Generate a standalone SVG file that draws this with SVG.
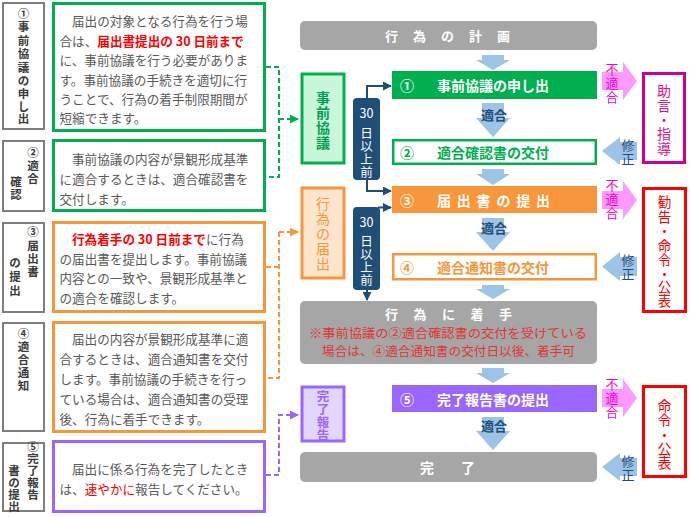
<svg xmlns="http://www.w3.org/2000/svg" width="690" height="517" viewBox="0 0 690 517">
<style>
text{font-family:"Noto Sans CJK JP","Noto Sans",sans-serif;dominant-baseline:central}
.lbl{fill:#fff;stroke:#7f7f7f;stroke-width:2}
.lt{font-size:11.5px;font-weight:bold;fill:#3a3a3a;text-anchor:middle}
.body{font-size:12.6px;fill:#595959}
.red{fill:#ff0000;font-weight:bold}
.gbox{fill:#fff;stroke:#00b050;stroke-width:3}
.obox{fill:#fff;stroke:#f7963a;stroke-width:3}
.pbox{fill:#fff;stroke:#9966ff;stroke-width:3}
.gray{fill:#a6a6a6}
.blue{fill:#9dc3e6}
.pink{fill:#ff99ff}
.navy{fill:#1f4e79}
.ft{font-size:14px;font-weight:bold}
.vt{text-anchor:middle}
.dash{fill:none;stroke-width:2;stroke-dasharray:5 3}
.conn{fill:none;stroke:#1f4e79;stroke-width:2}
.note{font-size:12.5px;fill:#e03535}
</style>
<defs>
<marker id="mg" markerUnits="userSpaceOnUse" markerWidth="9" markerHeight="9" refX="8" refY="4.5" orient="auto"><path d="M0,0 L9,4.5 L0,9 z" fill="#00b050"/></marker>
<marker id="mo" markerUnits="userSpaceOnUse" markerWidth="9" markerHeight="9" refX="8" refY="4.5" orient="auto"><path d="M0,0 L9,4.5 L0,9 z" fill="#f7963a"/></marker>
<marker id="mp" markerUnits="userSpaceOnUse" markerWidth="9" markerHeight="9" refX="8" refY="4.5" orient="auto"><path d="M0,0 L9,4.5 L0,9 z" fill="#9966ff"/></marker>
<marker id="mn" markerUnits="userSpaceOnUse" markerWidth="9" markerHeight="9" refX="8" refY="4.5" orient="auto"><path d="M0,0 L9,4.5 L0,9 z" fill="#1f4e79"/></marker>
</defs>
<rect width="690" height="517" fill="#fff"/>

<!-- left labels -->
<g id="label1">
<rect class="lbl" x="3" y="3" width="41" height="126"/>
<text class="lt"><tspan x="23.5" y="13">①</tspan><tspan x="23.5" y="26">事</tspan><tspan x="23.5" y="39.5">前</tspan><tspan x="23.5" y="53">協</tspan><tspan x="23.5" y="66.5">議</tspan><tspan x="23.5" y="80">の</tspan><tspan x="23.5" y="93">申</tspan><tspan x="23.5" y="105.5">し</tspan><tspan x="23.5" y="118">出</tspan></text>
</g>
<g id="label2">
<rect class="lbl" x="3" y="141" width="41" height="70"/>
<text class="lt"><tspan x="33" y="152">②</tspan><tspan x="33" y="165">適</tspan><tspan x="33" y="178">合</tspan><tspan x="16" y="181">確</tspan><tspan x="16" y="194">認</tspan></text>
</g>
<g id="label3">
<rect class="lbl" x="3" y="223" width="41" height="89"/>
<text class="lt"><tspan x="33" y="231">③</tspan><tspan x="33" y="245">届</tspan><tspan x="33" y="258">出</tspan><tspan x="33" y="271">書</tspan><tspan x="15" y="262">の</tspan><tspan x="15" y="276">提</tspan><tspan x="15" y="290">出</tspan></text>
</g>
<g id="label4">
<rect class="lbl" x="3" y="323" width="41" height="108"/>
<text class="lt"><tspan x="23.5" y="333">④</tspan><tspan x="23.5" y="346">適</tspan><tspan x="23.5" y="359">合</tspan><tspan x="23.5" y="372">通</tspan><tspan x="23.5" y="385">知</tspan></text>
</g>
<g id="label5">
<rect class="lbl" x="3" y="443" width="41" height="68"/>
<text class="lt" font-size="11"><tspan x="33" y="446">⑤</tspan><tspan x="33" y="458">完</tspan><tspan x="33" y="470">了</tspan><tspan x="33" y="482">報</tspan><tspan x="33" y="494">告</tspan><tspan x="14" y="470">書</tspan><tspan x="14" y="482">の</tspan><tspan x="14" y="494">提</tspan><tspan x="14" y="506">出</tspan></text>
</g>

<!-- description boxes -->
<g id="desc1">
<rect class="gbox" x="53.5" y="3.5" width="211" height="127"/>
<text class="body"><tspan x="72" y="20">届出の対象となる行為を行う場</tspan><tspan x="59.5" y="39.5">合は、<tspan class="red">届出書提出の 30 日前まで</tspan></tspan><tspan x="59.5" y="59">に、事前協議を行う必要がありま</tspan><tspan x="59.5" y="78.5">す。事前協議の手続きを適切に行</tspan><tspan x="59.5" y="98">うことで、行為の着手制限期間が</tspan><tspan x="59.5" y="117">短縮できます。</tspan></text>
</g>
<g id="desc2">
<rect class="gbox" x="53.5" y="140.5" width="211" height="70"/>
<text class="body"><tspan x="72" y="158">事前協議の内容が景観形成基準</tspan><tspan x="59.5" y="178">に適合するときは、適合確認書を</tspan><tspan x="59.5" y="198">交付します。</tspan></text>
</g>
<g id="desc3">
<rect class="obox" x="53.5" y="222.5" width="211" height="89"/>
<text class="body"><tspan x="72" y="238"><tspan class="red">行為着手の 30 日前まで</tspan>に行為</tspan><tspan x="59.5" y="258">の届出書を提出します。事前協議</tspan><tspan x="59.5" y="277">内容との一致や、景観形成基準と</tspan><tspan x="59.5" y="297">の適合を確認します。</tspan></text>
</g>
<g id="desc4">
<rect class="obox" x="53.5" y="322.5" width="211" height="109"/>
<text class="body"><tspan x="72" y="338">届出の内容が景観形成基準に適</tspan><tspan x="59.5" y="358">合するときは、適合通知書を交付</tspan><tspan x="59.5" y="378">します。事前協議の手続きを行っ</tspan><tspan x="59.5" y="398">ている場合は、適合通知書の受理</tspan><tspan x="59.5" y="418">後、行為に着手できます。</tspan></text>
</g>
<g id="desc5">
<rect class="pbox" x="53.5" y="441.5" width="211" height="70"/>
<text class="body"><tspan x="72" y="468">届出に係る行為を完了したとき</tspan><tspan x="59.5" y="488">は、<tspan fill="#ff0000">速やかに</tspan>報告してください。</tspan></text>
</g>

<!-- stage boxes -->
<g id="stage1">
<rect x="302" y="74" width="42" height="89" fill="#c9f5d9" stroke="#00b050" stroke-width="3"/>
<text class="vt" font-size="14" font-weight="bold" fill="#00a050"><tspan x="323" y="97">事</tspan><tspan x="323" y="112">前</tspan><tspan x="323" y="127">協</tspan><tspan x="323" y="142">議</tspan></text>
</g>
<g id="stage2">
<rect x="302" y="188" width="42" height="90" fill="#fde4cc" stroke="#f7963a" stroke-width="3"/>
<text class="vt" font-size="14" fill="#f7963a"><tspan x="323" y="203">行</tspan><tspan x="323" y="218">為</tspan><tspan x="323" y="233">の</tspan><tspan x="323" y="248">届</tspan><tspan x="323" y="263">出</tspan></text>
</g>
<g id="stage3">
<rect x="302" y="387" width="42" height="54" fill="#e2d6ff" stroke="#9966ff" stroke-width="3"/>
<text class="vt" font-size="12.5" font-weight="bold" fill="#9966ff"><tspan x="323" y="395">完</tspan><tspan x="323" y="408">了</tspan><tspan x="323" y="421">報</tspan><tspan x="323" y="434">告</tspan></text>
</g>

<!-- flow boxes -->
<g id="plan">
<rect class="gray" x="300" y="21" width="297" height="29" rx="5"/>
<text x="385" y="35.5" font-size="13" font-weight="bold" fill="#fff" textLength="125" lengthAdjust="spacing">行為の計画</text>
</g>
<g id="step1">
<rect x="392" y="71" width="205" height="28" fill="#00b050"/>
<text class="ft" fill="#fff"><tspan x="400" y="85">①</tspan><tspan x="437" y="85">事前協議の申し出</tspan></text>
</g>
<g id="step2">
<rect x="393.25" y="140.25" width="202.5" height="23.5" fill="#fff" stroke="#00b050" stroke-width="2.5"/>
<text class="ft" fill="#00b050"><tspan x="400" y="152">②</tspan><tspan x="437" y="152">適合確認書の交付</tspan></text>
</g>
<g id="step3">
<rect x="392" y="186" width="205" height="27" fill="#f7963a"/>
<text class="ft" fill="#fff"><tspan x="400" y="199.5">③</tspan><tspan x="437" y="199.5" textLength="113" lengthAdjust="spacing">届出書の提出</tspan></text>
</g>
<g id="step4">
<rect x="393.25" y="254.25" width="202.5" height="25" fill="#fff" stroke="#f7963a" stroke-width="2.5"/>
<text class="ft" fill="#f7963a"><tspan x="400" y="267">④</tspan><tspan x="437" y="267">適合通知書の交付</tspan></text>
</g>
<g id="start">
<rect class="gray" x="300" y="301" width="297" height="63" rx="5"/>
<text x="385" y="313.5" font-size="13" font-weight="bold" fill="#fff" textLength="127" lengthAdjust="spacing">行為に着手</text>
<text class="note" x="309" y="332" textLength="278" lengthAdjust="spacingAndGlyphs">※事前協議の②適合確認書の交付を受けている</text>
<text class="note" x="322" y="350.5" textLength="253" lengthAdjust="spacingAndGlyphs">場合は、④適合通知書の交付日以後、着手可</text>
</g>
<g id="step5">
<rect x="392" y="385" width="205" height="27" fill="#9966ff"/>
<text class="ft" fill="#fff"><tspan x="400" y="398.5">⑤</tspan><tspan x="437" y="398.5">完了報告書の提出</tspan></text>
</g>
<g id="done">
<rect class="gray" x="300" y="452" width="297" height="30" rx="5"/>
<text font-size="14" font-weight="bold" fill="#fff" text-anchor="middle"><tspan x="427" y="467">完</tspan><tspan x="468" y="467">了</tspan></text>
</g>

<!-- 30日以上前 -->
<g id="days1">
<rect class="navy" x="353" y="98" width="27" height="82" rx="4"/>
<text class="vt" font-size="12.5" fill="#fff"><tspan x="366.5" y="112">30</tspan><tspan x="366.5" y="132">日</tspan><tspan x="366.5" y="145">以</tspan><tspan x="366.5" y="158">上</tspan><tspan x="366.5" y="171">前</tspan></text>
</g>
<g id="days2">
<rect class="navy" x="353" y="207" width="27" height="83" rx="4"/>
<text class="vt" font-size="12.5" fill="#fff"><tspan x="366.5" y="221">30</tspan><tspan x="366.5" y="240">日</tspan><tspan x="366.5" y="253">以</tspan><tspan x="366.5" y="266">上</tspan><tspan x="366.5" y="279">前</tspan></text>
</g>

<!-- right result boxes -->
<g id="advice">
<rect x="643.5" y="73.5" width="41" height="89" fill="#fff" stroke="#cc0099" stroke-width="3"/>
<text class="vt" font-size="14" fill="#e4108f"><tspan x="664" y="90">助</tspan><tspan x="664" y="105">言</tspan><tspan x="664" y="119">・</tspan><tspan x="664" y="133">指</tspan><tspan x="664" y="148">導</tspan></text>
</g>
<g id="order1">
<rect x="643.5" y="188.5" width="42" height="123" fill="#fff" stroke="#ff0000" stroke-width="3"/>
<text class="vt" font-size="13.5" fill="#ff0000"><tspan x="664.5" y="201">勧</tspan><tspan x="664.5" y="216">告</tspan><tspan x="664.5" y="230">・</tspan><tspan x="664.5" y="245">命</tspan><tspan x="664.5" y="259">令</tspan><tspan x="664.5" y="272.5">・</tspan><tspan x="664.5" y="286">公</tspan><tspan x="664.5" y="300">表</tspan></text>
</g>
<g id="order2">
<rect x="643.5" y="386.5" width="42" height="90" fill="#fff" stroke="#ff0000" stroke-width="3"/>
<text class="vt" font-size="14" fill="#ff0000"><tspan x="664.5" y="405">命</tspan><tspan x="664.5" y="419">令</tspan><tspan x="664.5" y="433.5">・</tspan><tspan x="664.5" y="448">公</tspan><tspan x="664.5" y="462">表</tspan></text>
</g>

<!-- connectors -->
<g id="connectors">
<path class="dash" stroke="#00b050" d="M266,67 H279 V177 H266"/>
<path class="dash" stroke="#00b050" d="M279,119 H298" marker-end="url(#mg)"/>
<path class="dash" stroke="#f7963a" d="M266,267 H279 M279,232 V378 H266"/>
<path class="dash" stroke="#f7963a" d="M279,232 H298" marker-end="url(#mo)"/>
<path class="dash" stroke="#9966ff" d="M266,475 H279 V415 H298" marker-end="url(#mp)"/>
<path class="conn" d="M367,98 V86 H391" marker-end="url(#mn)"/>
<path class="conn" d="M367,180 V191 H391" marker-end="url(#mn)"/>
<path class="conn" d="M378,207.5 H391" marker-end="url(#mn)"/>
<path class="conn" d="M367,290 V300" marker-end="url(#mn)"/>
<!-- flow arrows -->
<path class="blue" d="M482,55 H504 V60 H510 L493,70 L476,60 H482 Z"/>
<path class="blue" d="M482,103 H504 V118 H510 L493,137 L476,118 H482 Z"/>
<path class="blue" d="M482,169 H504 V174 H510 L493,185 L476,174 H482 Z"/>
<path class="blue" d="M482,218 H504 V232 H510 L493,251 L476,232 H482 Z"/>
<path class="blue" d="M482,285 H504 V289 H510 L493,299 L476,289 H482 Z"/>
<path class="blue" d="M482,368 H504 V373 H510 L493,383 L476,373 H482 Z"/>
<path class="blue" d="M482,417 H504 V431 H510 L493,450 L476,431 H482 Z"/>
<text font-size="13" font-weight="bold" fill="#1f4e79" text-anchor="middle"><tspan x="494" y="114">適合</tspan><tspan x="494" y="227">適合</tspan><tspan x="494" y="425">適合</tspan></text>
<!-- non-conformity arrows -->
<path class="pink" d="M602,72 H623 V62 L637,81 L623,100 V90 H602 Z"/>
<path class="pink" d="M602,191 H623 V181 L637,200 L623,219 V209 H602 Z"/>
<path class="pink" d="M602,389 H623 V379 L637,398 L623,417 V407 H602 Z"/>
<text class="vt" font-size="13" fill="#ff00cc"><tspan x="612" y="68">不</tspan><tspan x="612" y="82">適</tspan><tspan x="612" y="96">合</tspan><tspan x="612" y="184">不</tspan><tspan x="612" y="198">適</tspan><tspan x="612" y="212">合</tspan><tspan x="612" y="383">不</tspan><tspan x="612" y="397">適</tspan><tspan x="612" y="411">合</tspan></text>
<!-- correction arrows -->
<path class="blue" d="M637,142 H620 V137 L602,151 L620,165 V160 H637 Z"/>
<path class="blue" d="M637,257 H620 V252 L602,266.5 L620,281 V276 H637 Z"/>
<path class="blue" d="M637,458 H620 V453 L602,467 L620,481 V476 H637 Z"/>
<text class="vt" font-size="13" fill="#1f4e79"><tspan x="628" y="144">修</tspan><tspan x="628" y="158">正</tspan><tspan x="628" y="259">修</tspan><tspan x="628" y="273">正</tspan><tspan x="628" y="460">修</tspan><tspan x="628" y="474">正</tspan></text>
</g>
</svg>
